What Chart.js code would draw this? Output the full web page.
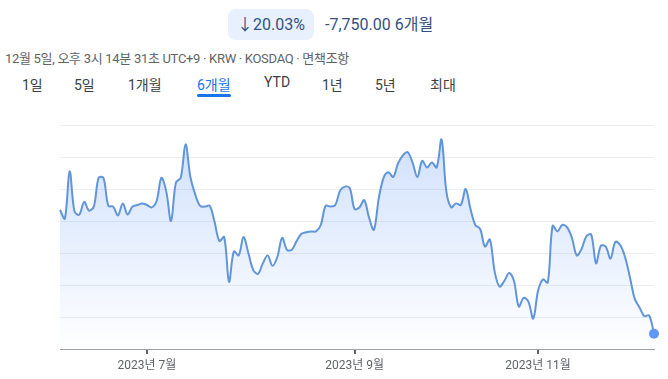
<!DOCTYPE html>
<html>
<head>
<meta charset="utf-8">
<script src="https://cdn.jsdelivr.net/npm/chart.js@4"></script>
<style>
  html, body { margin:0; padding:0; background:#fff; }
  body { width:668px; height:379px; position:relative; overflow:hidden;
         font-family: Roboto, "Noto Sans CJK KR", "Noto Sans", sans-serif; }
  .badge { position:absolute; left:228px; top:9px; width:86px; height:31px; border-radius:8px;
           background:#e8f0fe; color:#34507f; font-size:16px; line-height:31px; text-align:center; }
  .chg { position:absolute; left:325px; top:9px; line-height:31px; font-size:16px; color:#34507f; }
  .sub { position:absolute; left:5px; top:48px; font-size:13px; color:#5f6368; white-space:nowrap; letter-spacing:-0.3px; }
  .tab { position:absolute; top:74px; font-size:14px; color:#3c4043; white-space:nowrap; }
  .tab.sel { color:#1a73e8; }
  .ul { position:absolute; left:197px; top:94px; width:34px; height:3px; border-radius:2px; background:#1a73e8; }
  #wrap { position:absolute; left:0; top:110px; width:668px; height:269px; }
</style>
</head>
<body>
<div class="badge">↓20.03%</div>
<div class="chg">-7,750.00 6개월</div>
<div class="sub">12월 5일, 오후 3시 14분 31초 UTC+9 · KRW · KOSDAQ · 면책조항</div>
<div class="tab" style="left:22px">1일</div>
<div class="tab" style="left:74px">5일</div>
<div class="tab" style="left:128px">1개월</div>
<div class="tab sel" style="left:197px">6개월</div>
<div class="tab" style="left:264px">YTD</div>
<div class="tab" style="left:322px">1년</div>
<div class="tab" style="left:375px">5년</div>
<div class="tab" style="left:430px">최대</div>
<div class="ul"></div>
<div id="wrap"><canvas id="c"></canvas></div>
<script>
// Daily closes (trading days, 2023-06-07 .. 2023-12-05), KRW
const prices = [
  38700, 38150, 41100, 38600, 38400, 39200, 38650, 38900, 40700, 40700,
  38950, 38900, 38350, 39100, 38400, 38900, 39000, 39100, 39000, 38850,
  39250, 40700, 39850, 38000, 40400, 40700, 42800, 40750, 39650, 38950,
  38900, 38950, 37950, 36750, 37000, 34200, 36100, 35850, 37000, 36000,
  34950, 34700, 35350, 35850, 35200, 35750, 36950, 36200, 36200, 36750,
  37200, 37300, 37350, 37350, 37750, 38950, 38900, 39000, 39900, 40150,
  40050, 38750, 38850, 39300, 38200, 37450, 39400, 40700, 41050, 40750,
  41600, 42100, 42300, 41650, 40750, 41750, 41350, 41650, 41350, 43100,
  39850, 38850, 39100, 39000, 40000, 38750, 37750, 37500, 36400, 36850,
  34850, 33900, 34250, 34750, 34250, 32650, 33200, 32950, 31900, 33650,
  34350, 34150, 37700, 37350, 37750, 37600, 36950, 35850, 36250, 37050,
  37150, 35350, 36450, 36400, 35650, 36700, 36500, 35750, 34500, 33150,
  32600, 32050, 32100, 30950
];
// x-axis tick positions (trading-day index) and labels
const tickIndex = [18, 61, 99];
const tickLabels = ["2023년 7월", "2023년 9월", "2023년 11월"];
const yMin = 30000, yMax = 44000, yStep = 2000;

const points = prices.map((v, i) => ({ x: i, y: v }));
const radii = prices.map((v, i) => i === prices.length - 1 ? 5 : 0);

new Chart(document.getElementById('c'), {
  type: 'line',
  data: {
    datasets: [{
      data: points,
      borderColor: '#6195da',
      borderWidth: 2,
      tension: 0.35,
      pointRadius: radii,
      pointHoverRadius: 0,
      pointBackgroundColor: '#5e97f6',
      pointBorderWidth: 0,
      clip: false,
      fill: 'start',
      backgroundColor: (ctx) => {
        const ca = ctx.chart.chartArea;
        if (!ca) return 'rgba(66,133,244,0.15)';
        const g = ctx.chart.ctx.createLinearGradient(0, ca.top, 0, ca.bottom);
        g.addColorStop(0, 'rgba(66,133,244,0.26)');
        g.addColorStop(0.55, 'rgba(66,133,244,0.12)');
        g.addColorStop(1, 'rgba(66,133,244,0.0)');
        return g;
      }
    }]
  },
  options: {
    responsive: true,
    maintainAspectRatio: false,
    animation: false,
    layout: { padding: { left: 60, right: 14, top: 15, bottom: 0 } },
    plugins: { legend: { display: false }, tooltip: { enabled: false } },
    scales: {
      x: {
        type: 'linear',
        min: 0,
        max: prices.length - 1,
        afterBuildTicks: (s) => { s.ticks = tickIndex.map(v => ({ value: v })); },
        afterFit: (s) => { s.height = 30; },
        ticks: {
          autoSkip: false,
          maxRotation: 0,
          padding: 5,
          color: '#5f6368',
          font: { family: 'Roboto, "Noto Sans CJK KR"', size: 12 },
          callback: (v) => { const k = tickIndex.indexOf(v); return k >= 0 ? tickLabels[k] : ''; }
        },
        grid: { drawOnChartArea: false, drawTicks: true, tickLength: 5, color: '#5f6368', lineWidth: 2 },
        border: { display: true, color: '#9aa0a6', width: 1 }
      },
      y: {
        min: yMin,
        max: yMax,
        afterFit: (s) => { s.width = 0; },
        ticks: { display: false, stepSize: yStep },
        grid: { color: '#eceef1', lineWidth: 1, drawTicks: false },
        border: { display: false }
      }
    }
  }
});
</script>
</body>
</html>
